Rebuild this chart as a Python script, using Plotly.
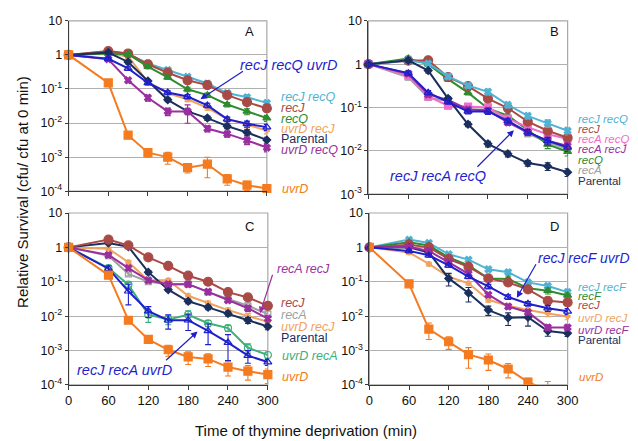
import plotly.graph_objects as go

# ---------------- data ----------------
t = [0, 60, 90, 120, 150, 180, 210, 240, 270, 300]
x_ticks = [0, 60, 120, 180, 240, 300]

# Panel A
A_recJ_recQ = [1, 1.27, 1.07, 0.56, 0.36, 0.23, 0.145, 0.076, 0.057, 0.039]
A_recJ = [1, 1.3, 1.1, 0.53, 0.30, 0.18, 0.13, 0.066, 0.041, 0.027]
A_recQ = [1, 1.1, 1.05, 0.45, 0.22, 0.098, 0.066, 0.035, 0.022, 0.014]
A_uvrD_recJ = [1, 1.1, 0.9, 0.16, 0.075, 0.05, 0.028, 0.013, 0.009, 0.006]
A_parental = [1, 1.17, 0.62, 0.17, 0.048, 0.022, 0.014, 0.0081, 0.0053, 0.0032]
A_uvrD_recQ = [1, 0.74, 0.18, 0.055, 0.022, 0.022, 0.0069, 0.0048, 0.0031, 0.0019]
A_recJ_recQ_uvrD = [1, 0.77, 0.40, 0.15, 0.079, 0.06, 0.033, 0.013, 0.0095, 0.0076]
A_uvrD = [1, 0.15, 0.0044, 0.00135, 0.001, 0.00049, 0.00062, 0.00023, 0.00015, 0.00012]

# Panel B
B_recJ_recQ = [1, 1.23, 1.03, 0.52, 0.32, 0.23, 0.115, 0.064, 0.043, 0.029]
B_recJ = [1, 1.2, 1.23, 0.50, 0.31, 0.16, 0.097, 0.047, 0.029, 0.02]
B_recA_recQ = [1, 0.55, 0.18, 0.11, 0.105, 0.1, 0.055, 0.035, 0.024, 0.019]
B_recA_recJ = [1, 0.6, 0.2, 0.15, 0.09, 0.085, 0.045, 0.027, 0.017, 0.013]
B_recQ = [1, 1.35, 1.0, 0.45, 0.22, 0.095, 0.065, 0.03, 0.014, 0.0095]
B_recA = [1, 0.5, 0.17, 0.14, 0.09, 0.09, 0.05, 0.025, 0.016, 0.011]
B_parental = [1, 1.23, 0.71, 0.16, 0.041, 0.0145, 0.0085, 0.0052, 0.0044, 0.0032]
B_recJ_recA_recQ = [1, 0.62, 0.22, 0.135, 0.081, 0.081, 0.049, 0.027, 0.017, 0.012]

# Panel C
C_recJ = [1, 1.68, 1.14, 0.51, 0.29, 0.15, 0.10, 0.05, 0.035, 0.020]
C_recA = [1, 0.57, 0.17, 0.10, 0.085, 0.085, 0.05, 0.031, 0.02, 0.0115]
C_uvrD_recJ = [1, 0.92, 0.37, 0.11, 0.11, 0.039, 0.024, 0.015, 0.01, 0.0069]
C_parental = [1, 1.35, 1.05, 0.19, 0.059, 0.027, 0.018, 0.012, 0.0076, 0.005]
C_recA_recJ = [1, 0.6, 0.25, 0.11, 0.085, 0.085, 0.051, 0.029, 0.017, 0.0085]
C_uvrD_recA = [1, 0.25, 0.082, 0.011, 0.008, 0.011, 0.0062, 0.0045, 0.0012, 0.00074]
C_recJ_recA_uvrD = [1, 0.24, 0.053, 0.014, 0.0076, 0.0076, 0.0037, 0.0017, 0.00071, 0.00046]
C_uvrD = [1, 0.156, 0.0076, 0.0021, 0.00105, 0.00065, 0.00057, 0.00033, 0.00025, 0.0002]

# Panel D
D_recJ_recF = [1, 1.68, 1.35, 0.63, 0.44, 0.23, 0.19, 0.096, 0.075, 0.05]
D_recF = [1, 1.4, 1.14, 0.51, 0.30, 0.125, 0.12, 0.065, 0.055, 0.04]
D_recJ = [1, 1.2, 1.0, 0.46, 0.27, 0.125, 0.095, 0.06, 0.028, 0.025]
D_recJ_recF_uvrD = [1, 0.79, 0.59, 0.30, 0.14, 0.073, 0.036, 0.023, 0.017, 0.0138]
D_uvrD_recJ = [1, 0.71, 0.33, 0.14, 0.09, 0.03, 0.02, 0.015, 0.012, 0.0098]
D_uvrD_recF = [1, 1.05, 0.79, 0.37, 0.17, 0.042, 0.019, 0.013, 0.0047, 0.0047]
D_parental = [1, 1.0, 0.71, 0.125, 0.047, 0.015, 0.0089, 0.0093, 0.0037, 0.0032]
D_uvrD = [1, 0.087, 0.0042, 0.0018, 0.00076, 0.00053, 0.00029, 0.00012, 0.00007, 0.00005]

# relative error bar sizes (fraction of value)
E_small = [0, 0.12, 0.12, 0.12, 0.12, 0.15, 0.15, 0.15, 0.2, 0.2]
E_A_uvrD = [0, 0.1, 0.15, 0.25, 0.38, 0.3, 0.6, 0.35, 0.3, 0.15]
E_A_uvrD_recQ = [0, 0.1, 0.15, 0.2, 0.25, 0.55, 0.2, 0.2, 0.25, 0.25]
E_C_uvrD = [0, 0.15, 0.15, 0.2, 0.35, 0.4, 0.4, 0.45, 0.45, 0.45]
E_C_triple = [0, 0.2, 0.6, 0.35, 0.45, 0.5, 0.6, 0.7, 0.4, 0.2]
E_C_uvrD_recA = [0, 0.2, 0.15, 0.4, 0.3, 0.3, 0.2, 0.2, 0.3, 0.2]
E_D_uvrD = [0, 0.1, 0.5, 0.4, 0.6, 0.5, 0.45, 0.3, 0.8, 0.8]
E_D_parental = [0, 0.1, 0.15, 0.4, 0.45, 0.3, 0.4, 0.45, 0.3, 0.2]

# y tick values / labels
yv_A = [1e-4, 1e-3, 1e-2, 1e-1, 1, 10]
yt_A = ["10<sup>-4</sup>", "10<sup>-3</sup>", "10<sup>-2</sup>", "10<sup>-1</sup>", "1", "10"]
yv_B = [1e-3, 1e-2, 1e-1, 1, 10]
yt_B = ["10<sup>-3</sup>", "10<sup>-2</sup>", "10<sup>-1</sup>", "1", "10"]

# ---------------- styles ----------------
CYAN = "#4FB3D4"
BROWN = "#A94A47"
GREEN = "#2E8B2E"
BLUE = "#1F1FCC"
NAVY = "#1B2F5E"
ORANGE = "#F47B20"
LORANGE = "#F0A35E"
PURPLE = "#9A2FA0"
GRAY = "#A0A0A0"
PINK = "#F06EC8"
TEAL = "#3DAF7A"

W, H = 638, 441
FONT = "Liberation Sans, Arial, sans-serif"

fig = go.Figure()

def add(vals, color, symbol, size, xa, ya, err=None, clip=False, lw=2):
    kw = {}
    if err is not None:
        kw["error_y"] = dict(type="data", array=[v * e for v, e in zip(vals, err)],
                             color=color, thickness=1.1, width=3)
    fig.add_trace(go.Scatter(
        x=t, y=vals, mode="lines+markers", xaxis=xa, yaxis=ya,
        line=dict(color=color, width=lw),
        marker=dict(color=color, symbol=symbol, size=size,
                    line=dict(color=color, width=1.2)),
        cliponaxis=clip, showlegend=False, **kw))

# Panel A (x, y)
add(A_uvrD_recJ, LORANGE, "cross", 4, "x", "y", E_small)
add(A_recJ_recQ, CYAN, "x", 6, "x", "y", E_small)
add(A_recJ, BROWN, "circle", 9, "x", "y", E_small)
add(A_recQ, GREEN, "triangle-up", 7, "x", "y", E_small)
add(A_parental, NAVY, "diamond", 6, "x", "y", E_small)
add(A_uvrD_recQ, PURPLE, "x", 6, "x", "y", E_A_uvrD_recQ)
add(A_recJ_recQ_uvrD, BLUE, "triangle-up-open", 7, "x", "y", E_small)
add(A_uvrD, ORANGE, "square", 8, "x", "y", E_A_uvrD)

# Panel B (x2, y2)
add(B_recA, GRAY, "square-open", 6, "x2", "y2", E_small)
add(B_recQ, GREEN, "triangle-up", 7, "x2", "y2", E_small)
add(B_recA_recQ, PINK, "square", 7, "x2", "y2", E_small)
add(B_recJ, BROWN, "circle", 9, "x2", "y2", E_small)
add(B_recJ_recQ, CYAN, "x", 6, "x2", "y2", E_small)
add(B_recA_recJ, PURPLE, "x", 6, "x2", "y2", E_small)
add(B_parental, NAVY, "diamond", 6, "x2", "y2", E_small)
add(B_recJ_recA_recQ, BLUE, "triangle-up-open", 7, "x2", "y2", E_small)

# Panel C (x3, y3)
add(C_recA, GRAY, "square-open", 6, "x3", "y3", E_small)
add(C_uvrD_recJ, LORANGE, "cross", 4, "x3", "y3", E_small)
add(C_parental, NAVY, "diamond", 6, "x3", "y3", E_small)
add(C_recA_recJ, PURPLE, "x", 6, "x3", "y3", E_small)
add(C_recJ, BROWN, "circle", 9, "x3", "y3", E_small)
add(C_uvrD_recA, TEAL, "circle-open", 7, "x3", "y3", E_C_uvrD_recA)
add(C_recJ_recA_uvrD, BLUE, "triangle-up-open", 7, "x3", "y3", E_C_triple)
add(C_uvrD, ORANGE, "square", 8, "x3", "y3", E_C_uvrD)

# Panel D (x4, y4)
add(D_uvrD_recJ, LORANGE, "cross", 4, "x4", "y4", E_small)
add(D_recJ_recF, CYAN, "x", 6, "x4", "y4", E_small)
add(D_recF, GREEN, "triangle-up", 7, "x4", "y4", E_small)
add(D_recJ, BROWN, "circle", 9, "x4", "y4", E_small)
add(D_parental, NAVY, "diamond", 6, "x4", "y4", E_D_parental)
add(D_uvrD_recF, PURPLE, "x", 6, "x4", "y4", E_small)
add(D_recJ_recF_uvrD, BLUE, "triangle-up-open", 7, "x4", "y4", E_small)
add(D_uvrD, ORANGE, "square", 8, "x4", "y4", E_D_uvrD, clip=True)

# ---------------- axes ----------------
def dom(x0, x1, ytop, ybot):
    return [x0 / W, x1 / W], [1 - ybot / H, 1 - ytop / H]

panels = {
    "": dom(58, 261, 6, 182) + ([-4, 1], yv_A, yt_A, False),
    "2": dom(365, 569, 6, 185) + ([-3, 1], yv_B, yt_B, False),
    "3": dom(58, 262, 204.5, 382) + ([-4, 1], yv_A, yt_A, True),
    "4": dom(366, 569, 204.5, 382) + ([-4, 1], yv_A, yt_A, True),
}
AXC = "#3A3A3A"
for k, (xd, yd, yr, yv, yt, showx) in panels.items():
    fig.layout["xaxis" + k] = dict(
        domain=xd, range=[0, 300], anchor="y" + k, tickvals=x_ticks,
        showticklabels=showx, ticks="outside", ticklen=4, tickcolor=AXC,
        showline=True, linecolor=AXC, linewidth=1, showgrid=False, zeroline=False,
        tickfont=dict(size=13, color="#111111", family=FONT), fixedrange=True)
    fig.layout["yaxis" + k] = dict(
        domain=yd, type="log", range=yr, anchor="x" + k, tickvals=yv, ticktext=yt,
        ticks="outside", ticklen=3, tickcolor=AXC, showline=True, linecolor=AXC,
        linewidth=1, showgrid=True, gridcolor="#B0B0B0", gridwidth=1, zeroline=False,
        tickfont=dict(size=12.5, color="#111111", family=FONT), fixedrange=True)
    fig.add_shape(type="rect", xref=("x" + k) + " domain", yref=("y" + k) + " domain",
                  x0=0, x1=1, y0=0, y1=1, line=dict(color="#A8A8A8", width=1.2),
                  layer="below")

# ---------------- annotations ----------------
ann = []
DX = -2  # compensate annotation box padding

def txt(x, y, s, color, size=12.5, italic=True, **kw):
    ann.append(dict(x=(x + DX) / W, y=1 - y / H, xref="paper", yref="paper",
                    text=("<i>%s</i>" % s) if italic else s, showarrow=False,
                    xanchor=kw.pop("xanchor", "left"), yanchor="middle",
                    font=dict(size=size, color=color, family=FONT), **kw))

def arrow(x0, y0, x1, y1, color):
    ann.append(dict(x=x1 / W, y=1 - y1 / H, xref="paper", yref="paper",
                    ax=x0 - x1, ay=y0 - y1, axref="pixel", ayref="pixel",
                    text="", showarrow=True, arrowhead=2, arrowsize=1.1,
                    arrowwidth=1.2, arrowcolor=color))

# panel letters
txt(245, 17, "A", "#111111", 13, False, xanchor="center")
txt(558, 17, "B", "#111111", 13, False, xanchor="center")
txt(245, 218, "C", "#111111", 13, False, xanchor="center")
txt(558, 218, "D", "#111111", 13, False, xanchor="center")

# Panel A labels
txt(275, 85, "recJ recQ", CYAN)
txt(275, 96.5, "recJ", BROWN)
txt(275, 107, "recQ", GREEN)
txt(275, 118, "uvrD recJ", LORANGE)
txt(275, 128.5, "Parental", NAVY, italic=False)
txt(275, 139.5, "uvrD recQ", PURPLE)
txt(276, 180, "uvrD", ORANGE)
txt(233, 52, "recJ recQ uvrD", BLUE, 14.5)
arrow(237, 58, 193, 87, BLUE)

# Panel B labels
LB = 11.5
txt(580, 107, "recJ recQ", CYAN, LB)
txt(580, 118, "recJ", BROWN, LB)
txt(580, 128, "recA recQ", PINK, LB)
txt(580, 138.5, "recA recJ", PURPLE, LB)
txt(580, 149.5, "recQ", GREEN, LB)
txt(580, 160.5, "recA", GRAY, LB)
txt(580, 171.5, "Parental", NAVY, LB, italic=False)
txt(387, 166, "recJ recA recQ", BLUE, 14.5)
arrow(476, 157, 514, 119, BLUE)

# Panel C labels
txt(271, 262, "recA recJ", PURPLE)
arrow(267, 268, 254, 308, PURPLE)
txt(275, 297, "recJ", BROWN)
txt(275, 310, "recA", GRAY)
txt(275, 322, "uvrD recJ", LORANGE)
txt(275, 334, "Parental", NAVY, italic=False)
txt(276, 352, "uvrD recA", TEAL)
txt(276, 374, "uvrD", ORANGE)
txt(67, 367, "recJ recA uvrD", BLUE, 14.5)
arrow(157, 357, 190, 327, BLUE)

# Panel D labels
txt(580, 281, "recJ recF", CYAN, LB)
txt(580, 290.5, "recF", GREEN, LB)
txt(580, 299.5, "recJ", BROWN, LB)
txt(580, 313, "uvrD recJ", LORANGE, LB)
txt(580, 325, "uvrD recF", PURPLE, LB)
txt(580, 336, "Parental", NAVY, LB, italic=False)
txt(581, 374, "uvrD", ORANGE, LB)
txt(539, 251, "recJ recF uvrD", BLUE, 14)
arrow(537, 257, 517, 292, BLUE)

# axis titles
ann.append(dict(x=10 / W, y=1 - 183 / H, xref="paper", yref="paper",
                text="Relative Survival (cfu/ cfu at 0 min)", showarrow=False,
                textangle=-90, xanchor="center", yanchor="middle",
                font=dict(size=15, color="#111111", family=FONT)))
ann.append(dict(x=301 / W, y=1 - 429 / H, xref="paper", yref="paper",
                text="Time of thymine deprivation (min)", showarrow=False,
                xanchor="center", yanchor="middle",
                font=dict(size=15, color="#111111", family=FONT)))

fig.update_layout(
    width=W, height=H, margin=dict(l=0, r=0, t=0, b=0),
    paper_bgcolor="white", plot_bgcolor="white",
    font=dict(family=FONT, size=13, color="#111111"),
    annotations=ann, showlegend=False,
)

fig.write_html("out.html")
